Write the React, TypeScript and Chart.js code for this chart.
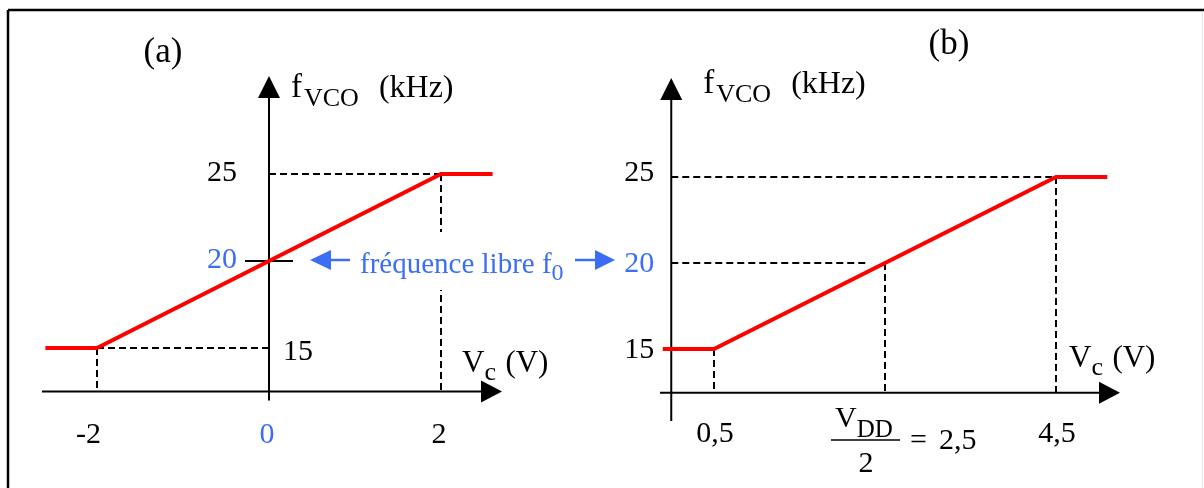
import { useEffect, useRef } from "react";
import { Chart, registerables } from "chart.js";

Chart.register(...registerables);

// VCO transfer characteristic, panel (a): symmetric supply, control voltage in volts
const vcA = [-2.6, -2, 2, 2.6];
const fA = [15, 15, 25, 25];

// panel (b): single supply VDD = 5 V, centred on VDD/2
const vcB = [-0.1, 0.5, 4.5, 5.1];
const fB = [15, 15, 25, 25];

// tick values and their printed labels
const fTicks = [15, 20, 25];
const xTicksA = [-2, 0, 2];
const xLabelsA = ["-2", "0", "2"];
const xTicksB = [0.5, 2.5, 4.5];
const xLabelsB = ["0,5", "2,5", "4,5"];

const F0 = 20; // free-running frequency (kHz)
const VMIN_A = -2;
const VMAX_A = 2;
const VMIN_B = 0.5;
const VMID_B = 2.5;
const VMAX_B = 4.5;
const FMIN = 15;
const FMAX = 25;

const W = 1204;
const H = 488;
const SERIF = '"Liberation Serif", "Times New Roman", serif';
const RED = "#ff0000";
const BLUE = "#3c6ef5";
const INK = "#000000";

function txt(
  ctx: CanvasRenderingContext2D,
  s: string,
  x: number,
  y: number,
  size: number,
  color = INK,
  align: CanvasTextAlign = "left"
): number {
  ctx.font = `${size}px ${SERIF}`;
  ctx.fillStyle = color;
  ctx.textAlign = align;
  ctx.textBaseline = "alphabetic";
  ctx.fillText(s, x, y);
  return ctx.measureText(s).width;
}

function line(
  ctx: CanvasRenderingContext2D,
  x1: number,
  y1: number,
  x2: number,
  y2: number,
  width: number,
  color = INK,
  dash: number[] = []
) {
  ctx.save();
  ctx.strokeStyle = color;
  ctx.lineWidth = width;
  ctx.setLineDash(dash);
  ctx.beginPath();
  ctx.moveTo(x1, y1);
  ctx.lineTo(x2, y2);
  ctx.stroke();
  ctx.restore();
}

function head(
  ctx: CanvasRenderingContext2D,
  tipX: number,
  tipY: number,
  dir: "up" | "right" | "left",
  len: number,
  half: number,
  color = INK
) {
  ctx.save();
  ctx.fillStyle = color;
  ctx.beginPath();
  ctx.moveTo(tipX, tipY);
  if (dir === "up") {
    ctx.lineTo(tipX - half, tipY + len);
    ctx.lineTo(tipX + half, tipY + len);
  } else if (dir === "right") {
    ctx.lineTo(tipX - len, tipY - half);
    ctx.lineTo(tipX - len, tipY + half);
  } else {
    ctx.lineTo(tipX + len, tipY - half);
    ctx.lineTo(tipX + len, tipY + half);
  }
  ctx.closePath();
  ctx.fill();
  ctx.restore();
}

const DASH = [7, 4];
const DASH_W = 2;

const diagramPlugin = {
  id: "vcoDiagram",
  beforeDatasetsDraw(chart: any) {
    const ctx: CanvasRenderingContext2D = chart.ctx;
    const xA = chart.scales.xA;
    const yA = chart.scales.yA;
    const xB = chart.scales.xB;
    const yB = chart.scales.yB;

    ctx.save();
    ctx.fillStyle = "#ffffff";
    ctx.fillRect(0, 0, W, H);
    ctx.restore();

    // outer frame
    line(ctx, 8, 10, W, 10, 2.5);
    line(ctx, 8, 10, 8, H, 2.5);
    line(ctx, W - 1.5, 11, W - 1.5, H, 1, "#e6e6e6");

    // ---- panel (a) ----
    const a0 = xA.getPixelForValue(0);
    const aAxisY = yA.getPixelForValue(12.5);
    const aLo = xA.getPixelForValue(VMIN_A);
    const aHi = xA.getPixelForValue(VMAX_A);
    const aF15 = yA.getPixelForValue(FMIN);
    const aF25 = yA.getPixelForValue(FMAX);
    const aF0 = yA.getPixelForValue(F0);

    line(ctx, 42, aAxisY, 484, aAxisY, 2);
    head(ctx, 502, aAxisY, "right", 21, 11);
    line(ctx, a0, aAxisY + 9, a0, 96, 2);
    head(ctx, a0, 76, "up", 22, 11);

    line(ctx, a0, aF25, aHi, aF25, DASH_W, INK, DASH);
    line(ctx, aHi, aF25, aHi, aAxisY, DASH_W, INK, DASH);
    line(ctx, aLo, aF15, a0, aF15, DASH_W, INK, DASH);
    line(ctx, aLo, aF15, aLo, aAxisY, DASH_W, INK, DASH);
    line(ctx, a0 - 24, aF0, a0 + 24, aF0, 2);

    // clear band behind the free-running frequency note
    ctx.save();
    ctx.fillStyle = "#ffffff";
    ctx.fillRect(356, 232, 214, 58);
    ctx.restore();

    // ---- panel (b) ----
    const b0 = xB.getPixelForValue(0);
    const bAxisY = yB.getPixelForValue(12.45);
    const bLo = xB.getPixelForValue(VMIN_B);
    const bMid = xB.getPixelForValue(VMID_B);
    const bHi = xB.getPixelForValue(VMAX_B);
    const bF15 = yB.getPixelForValue(FMIN);
    const bF25 = yB.getPixelForValue(FMAX);
    const bF0 = yB.getPixelForValue(F0);

    line(ctx, 660, bAxisY, 1100, bAxisY, 2);
    head(ctx, 1120, bAxisY, "right", 21, 11);
    line(ctx, b0, 421, b0, 98, 2);
    head(ctx, b0, 78, "up", 22, 11);

    line(ctx, b0, bF25, bHi, bF25, DASH_W, INK, DASH);
    line(ctx, bHi, bF25, bHi, bAxisY, DASH_W, INK, DASH);
    line(ctx, b0, bF0, bMid - 18, bF0, DASH_W, INK, DASH);
    line(ctx, bMid, bF0, bMid, bAxisY, DASH_W, INK, DASH);
    line(ctx, bLo, bF15, bLo, bAxisY, DASH_W, INK, DASH);
  },
  afterDatasetsDraw(chart: any) {
    const ctx: CanvasRenderingContext2D = chart.ctx;
    const xA = chart.scales.xA;
    const yA = chart.scales.yA;
    const xB = chart.scales.xB;
    const yB = chart.scales.yB;
    const a0 = xA.getPixelForValue(0);
    const b0 = xB.getPixelForValue(0);

    // panel titles
    txt(ctx, "(a)", 163, 62, 35, INK, "center");
    txt(ctx, "(b)", 949, 54, 35, INK, "center");

    // vertical axis titles: f_VCO (kHz)
    const yTitle = (x: number, base: number) => {
      const w = txt(ctx, "f", x, base, 33);
      const w2 = txt(ctx, "VCO", x + w + 2, base + 9, 26);
      txt(ctx, "(kHz)", x + w + 2 + w2 + 20, base, 32);
    };
    yTitle(a0 + 22, 97);
    yTitle(b0 + 32, 93);

    // horizontal axis titles: V_c (V)
    const xTitle = (x: number, base: number) => {
      const w = txt(ctx, "V", x, base, 31);
      txt(ctx, "c", x + w, base + 8, 26);
      txt(ctx, "(V)", x + w + 21, base, 31);
    };
    xTitle(462, 372);
    xTitle(1069, 367);

    // panel (a) frequency ticks
    fTicks.forEach((f) => {
      const py = yA.getPixelForValue(f);
      if (f === FMIN) txt(ctx, String(f), a0 + 14, py + 12, 30);
      else txt(ctx, String(f), a0 - 32, py + 7, 30, f === F0 ? BLUE : INK, "right");
    });
    // panel (a) voltage ticks
    xTicksA.forEach((v, i) => {
      const px = xA.getPixelForValue(v);
      if (v < 0) txt(ctx, xLabelsA[i], px + 4, 443, 30, INK, "right");
      else txt(ctx, xLabelsA[i], px - 2, 443, 30, v === 0 ? BLUE : INK, "center");
    });

    // panel (b) frequency ticks
    fTicks.forEach((f) => {
      const py = yB.getPixelForValue(f);
      txt(ctx, String(f), b0 - 17, py + (f === FMAX ? 4 : 9), 30, f === F0 ? BLUE : INK, "right");
    });
    // panel (b) voltage ticks
    xTicksB.forEach((v, i) => {
      const px = xB.getPixelForValue(v);
      if (v === VMID_B) {
        // VDD/2 = 2,5 written as a fraction
        const left = px - 54;
        const wV = txt(ctx, "V", left + 4, 427, 30);
        txt(ctx, "DD", left + 4 + wV, 437, 25);
        line(ctx, left, 440, left + 69, 440, 1.6);
        txt(ctx, "2", left + 35, 472, 30, INK, "center");
        txt(ctx, "=", left + 79, 449, 30);
        txt(ctx, xLabelsB[i], left + 108, 449, 30);
      } else {
        txt(ctx, xLabelsB[i], px + 1, 442, 30, INK, "center");
      }
    });

    // free-running frequency note with arrows to both 20 kHz marks
    const ny = yA.getPixelForValue(F0) - 1;
    line(ctx, 328, ny, 350, ny, 2.5, BLUE);
    head(ctx, 310, ny, "left", 21, 10, BLUE);
    const wNote = txt(ctx, "fréquence libre f", 360, 273, 29, BLUE);
    txt(ctx, "0", 360 + wNote, 280, 24, BLUE);
    line(ctx, 575, ny, 597, ny, 2.5, BLUE);
    head(ctx, 615, ny, "right", 20, 10, BLUE);
  },
};

export default function App() {
  const canvasRef = useRef<HTMLCanvasElement | null>(null);

  useEffect(() => {
    document.body.style.margin = "0";
    document.body.style.overflow = "hidden";
    const canvas = canvasRef.current;
    if (!canvas) return;

    const chart = new Chart(canvas, {
      type: "line",
      data: {
        datasets: [
          {
            label: "(a)",
            data: vcA.map((v, i) => ({ x: v, y: fA[i] })),
            xAxisID: "xA",
            yAxisID: "yA",
            borderColor: RED,
            borderWidth: 4,
            pointRadius: 0,
            tension: 0,
            fill: false,
          },
          {
            label: "(b)",
            data: vcB.map((v, i) => ({ x: v, y: fB[i] })),
            xAxisID: "xB",
            yAxisID: "yB",
            borderColor: RED,
            borderWidth: 4,
            pointRadius: 0,
            tension: 0,
            fill: false,
          },
        ],
      },
      options: {
        responsive: false,
        animation: false,
        devicePixelRatio: 1,
        events: [],
        layout: { padding: 0 },
        plugins: {
          legend: { display: false },
          tooltip: { enabled: false },
        },
        scales: {
          xA: { type: "linear", axis: "x", display: false, min: -3.1279, max: 10.8721 },
          yA: { type: "linear", axis: "y", display: false, min: 6.954, max: 35 },
          xB: { type: "linear", axis: "x", display: false, min: -7.851, max: 6.231 },
          yB: { type: "linear", axis: "y", display: false, min: 6.919, max: 35.291 },
        },
      },
      plugins: [diagramPlugin],
    } as any);

    return () => chart.destroy();
  }, []);

  return (
    <canvas
      ref={canvasRef}
      width={W}
      height={H}
      style={{ display: "block", width: W, height: H }}
    />
  );
}
